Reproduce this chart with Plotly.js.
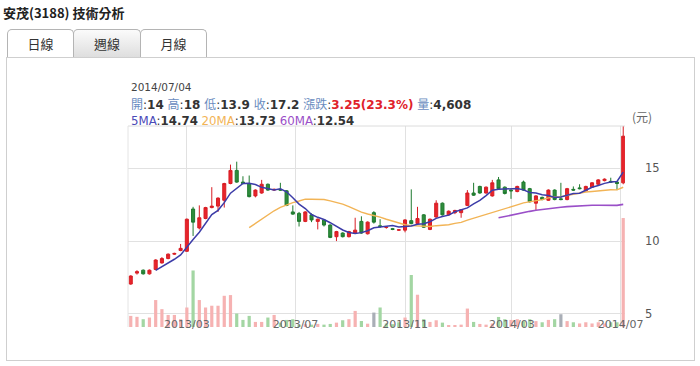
<!DOCTYPE html>
<html>
<head>
<meta charset="utf-8">
<script src="https://cdn.plot.ly/plotly-3.0.1.min.js"></script>
<style>
  html, body { margin:0; padding:0; background:#fff; }
  #wrap { position:relative; width:700px; height:366px; overflow:hidden; font-family:"Noto Sans CJK TC","Noto Sans",sans-serif; }
  #title { position:absolute; left:3px; top:4px; font-size:13px; font-weight:bold; color:#222; line-height:18px; }
  .tab { position:absolute; top:29px; height:28px; border:1px solid #b4b4b4; border-bottom:none; border-radius:5px 5px 0 0; background:#fff; font-size:13px; color:#333; text-align:center; line-height:28px; box-sizing:border-box; }
  #box { position:absolute; left:6px; top:57px; width:689px; height:304px; border:1px solid #cfcfcf; box-sizing:border-box; }
  #chart { position:absolute; left:0; top:0; width:700px; height:366px; }
</style>
</head>
<body>
<div id="wrap">
  <div id="title">安茂(3188) 技術分析</div>
  <div id="box"></div>
  <div class="tab" style="left:7px;width:67px;">日線</div>
  <div class="tab" style="left:73px;width:68px;background:linear-gradient(#fbfbfb,#dedede);">週線</div>
  <div class="tab" style="left:140px;width:67px;">月線</div>
  <div id="chart"></div>
</div>
<script>
const dates = ['2012-12-28','2013-01-04','2013-01-11','2013-01-18','2013-01-25','2013-02-01','2013-02-08','2013-02-15','2013-02-22','2013-03-01',
'2013-03-08','2013-03-15','2013-03-22','2013-03-29','2013-04-05','2013-04-12','2013-04-19','2013-04-26','2013-05-03','2013-05-10',
'2013-05-17','2013-05-24','2013-05-31','2013-06-07','2013-06-14','2013-06-21','2013-06-28','2013-07-05','2013-07-12','2013-07-19',
'2013-07-26','2013-08-02','2013-08-09','2013-08-16','2013-08-23','2013-08-30','2013-09-06','2013-09-13','2013-09-20','2013-09-27',
'2013-10-04','2013-10-11','2013-10-18','2013-10-25','2013-11-01','2013-11-08','2013-11-15','2013-11-22','2013-11-29','2013-12-06',
'2013-12-13','2013-12-20','2013-12-27','2014-01-03','2014-01-10','2014-01-17','2014-01-24','2014-01-31','2014-02-07','2014-02-14',
'2014-02-21','2014-02-28','2014-03-07','2014-03-14','2014-03-21','2014-03-28','2014-04-04','2014-04-11','2014-04-18','2014-04-25',
'2014-05-02','2014-05-09','2014-05-16','2014-05-23','2014-05-30','2014-06-06','2014-06-13','2014-06-20','2014-06-27','2014-07-04'];

const opens = [7.05,7.8,8.0,7.75,8.05,8.5,8.8,9.1,9.35,9.3,
12.2,10.9,11.55,12.3,12.4,12.8,13.95,14.85,14.05,13.95,
13.1,13.3,13.9,13.5,13.55,13.45,12.0,11.9,11.35,11.8,
11.35,11.45,11.1,10.3,10.55,10.3,10.55,11.35,10.5,11.95,
11.05,10.93,10.85,10.75,10.75,11.4,11.2,11.8,10.8,11.65,
12.6,11.8,11.95,11.95,12.45,13.3,13.75,13.3,13.1,14.2,
13.7,13.5,13.4,14.05,13.6,12.6,13.0,12.8,13.5,12.9,
12.85,13.55,13.65,13.45,13.7,13.9,14.15,14.1,14.05,14];
const highs = [7.65,8.0,8.05,8.05,8.75,8.9,9.15,9.2,9.8,11.55,
12.35,12.45,12.35,13.7,13.0,14.0,15.25,15.45,14.45,14.5,
13.55,14.2,13.95,13.6,14.0,13.5,12.45,12.0,12.05,11.9,
11.55,11.5,11.15,10.7,10.6,10.7,11.6,11.7,11.35,12.05,
11.5,11.0,10.9,10.8,11.5,13.55,12.35,11.85,11.55,12.8,
12.65,12.1,12.15,12.2,13.5,14.0,13.8,13.75,14.2,14.4,
13.75,13.55,13.8,14.15,13.65,13.15,13.05,13.55,13.55,14.0,
13.65,13.75,13.9,13.8,14.05,14.25,14.3,14.35,14.1,18];
const lows = [7.0,7.7,7.7,7.7,8.0,8.45,8.75,9.05,9.3,9.25,
10.35,10.8,11.5,12.25,12.0,12.3,13.9,14.0,13.9,13.0,
13.0,13.25,13.45,13.45,13.45,12.4,11.8,11.0,11.3,11.3,
10.8,11.0,10.2,10.0,10.25,10.25,10.5,10.5,10.45,11.2,
10.9,10.85,10.75,10.7,10.6,11.15,11.15,10.9,10.75,11.6,
11.75,11.75,11.85,11.6,12.4,13.1,13.25,13.25,13.05,13.55,
13.2,12.9,13.35,13.45,12.65,12.1,12.8,12.75,12.8,12.8,
12.8,13.45,13.55,13.4,13.65,13.85,14.1,14.0,13.5,13.9];
const closes = [7.6,7.9,7.75,8.0,8.7,8.8,9.1,9.15,9.5,11.5,
11.3,11.6,12.3,12.4,12.95,13.95,14.85,14.05,13.95,13.05,
13.5,13.9,13.5,13.55,13.5,12.45,11.85,11.35,12.0,11.45,
11.5,11.1,10.25,10.65,10.3,10.65,10.75,10.55,11.3,11.3,
11.0,10.95,10.8,10.77,11.45,11.2,11.55,10.95,11.5,12.6,
11.8,12.05,12.1,12.15,13.3,13.15,13.3,13.7,14.0,13.6,
13.27,13.45,13.75,13.5,12.7,13.1,12.85,13.5,12.85,12.85,
13.6,13.5,13.6,13.75,14.0,14.2,14.25,14.05,13.95,17.2];
const volumes = [470,430,330,400,1140,755,510,510,330,825,
2390,1140,825,900,900,1320,1350,570,300,470,
215,215,400,510,185,300,330,100,120,100,
130,100,130,185,285,330,680,255,140,610,
825,150,120,200,400,2200,1365,330,215,285,
185,85,85,100,780,215,130,100,150,425,
330,300,330,250,330,250,200,300,330,540,
250,200,150,200,150,200,150,200,200,4608];

const xTickFormat = '%Y/%m';
const infoDate = '2014/07/04';
const infoOpen = '14', infoHigh = '18', infoLow = '13.9', infoClose = '17.2';
const infoChange = '3.25(23.3%)', infoVolume = '4,608';
const ma5Label = '14.74', ma20Label = '13.73', ma60Label = '12.54';
const unitLabel = '(元)';

function sma(arr, n) {
  return arr.map((v, i) => {
    if (i < n - 1) return null;
    let s = 0;
    for (let k = i - n + 1; k <= i; k++) s += arr[k];
    return s / n;
  });
}
const ma5 = sma(closes, 5), ma20 = sma(closes, 20), ma60 = sma(closes, 60);

const volColors = closes.map((c, i) => {
  const ref = i === 0 ? opens[0] : closes[i - 1];
  if (c > ref) return '#f6b2b2';
  if (c < ref) return '#a3d6a3';
  return '#a9aeb6';
});

const DAY = 86400000;
const traces = [
  { type:'bar', x:dates, y:volumes, yaxis:'y', marker:{color:volColors, line:{width:0}},
    width:dates.map(() => 3.6 * DAY), hoverinfo:'skip' },
  { type:'candlestick', x:dates, open:opens, high:highs, low:lows, close:closes, yaxis:'y2',
    increasing:{line:{color:'#d81e25', width:1}, fillcolor:'#e8242b'},
    decreasing:{line:{color:'#1f7a2f', width:1}, fillcolor:'#2f8c3c'},
    whiskerwidth:0, hoverinfo:'skip' },
  { type:'scatter', mode:'lines', x:dates, y:ma60, yaxis:'y2', line:{color:'#9a4fc8', width:1.6}, hoverinfo:'skip' },
  { type:'scatter', mode:'lines', x:dates, y:ma20, yaxis:'y2', line:{color:'#f2b456', width:1.4}, hoverinfo:'skip' },
  { type:'scatter', mode:'lines', x:dates, y:ma5, yaxis:'y2', line:{color:'#3c3ca8', width:1.5}, hoverinfo:'skip' }
];

const lab = '#6a8cc0';
const fnt = 'DejaVu Sans, Noto Sans CJK TC, sans-serif';
const line2 = `<span style="color:${lab}">開</span>:<b>${infoOpen}</b> <span style="color:${lab}">高</span>:<b>${infoHigh}</b> <span style="color:${lab}">低</span>:<b>${infoLow}</b> <span style="color:${lab}">收</span>:<b>${infoClose}</b> <span style="color:${lab}">漲跌</span>:<b><span style="color:#e0212a">${infoChange}</span></b> <span style="color:${lab}">量</span>:<b>${infoVolume}</b>`;
const line3 = `<span style="color:#4a4ab8">5MA</span>:<b>${ma5Label}</b> <span style="color:#f2b456">20MA</span>:<b>${ma20Label}</b> <span style="color:#9a4fc8">60MA</span>:<b>${ma60Label}</b>`;

const layout = {
  width:700, height:366,
  margin:{l:128, r:75, t:126, b:39, pad:0},
  paper_bgcolor:'rgba(0,0,0,0)', plot_bgcolor:'rgba(0,0,0,0)',
  showlegend:false,
  font:{family:fnt, color:'#333', size:11},
  xaxis:{
    type:'date', range:['2012-12-24 22:00','2014-07-06'],
    tick0:'2013-03-01', dtick:'M4', tickformat:xTickFormat,
    showgrid:true, gridcolor:'#e1e1e1', gridwidth:1, zeroline:false, showline:false,
    ticks:'', tickfont:{family:fnt, size:11, color:'#666'},
    ticklabelstandoff:-11,
    rangeslider:{visible:false}, fixedrange:true
  },
  yaxis:{ range:[0, 8500], visible:false, showgrid:false, zeroline:false, fixedrange:true },
  yaxis2:{
    overlaying:'y', side:'right', range:[4.1, 17.9], tickvals:[5,10,15],
    showgrid:true, gridcolor:'#e1e1e1', gridwidth:1, zeroline:false, showline:false,
    ticks:'', tickfont:{family:fnt, size:11.5, color:'#555'}, ticklabelstandoff:19, fixedrange:true
  },
  shapes:[
    {type:'line', xref:'paper', yref:'paper', x0:0, x1:1, y0:1, y1:1, line:{color:'#dcdcdc', width:1}},
    {type:'line', xref:'paper', yref:'paper', x0:0, x1:0, y0:0, y1:1, line:{color:'#e4e4e4', width:1}}
  ],
  annotations:[
    {xref:'paper', yref:'paper', x:0.002, y:1.194, xanchor:'left', yanchor:'middle', showarrow:false,
     text:infoDate, font:{family:fnt, size:10.5, color:'#444'}},
    {xref:'paper', yref:'paper', x:0.002, y:1.109, xanchor:'left', yanchor:'middle', showarrow:false,
     text:line2, font:{family:fnt, size:12, color:'#333'}},
    {xref:'paper', yref:'paper', x:0.002, y:1.027, xanchor:'left', yanchor:'middle', showarrow:false,
     text:line3, font:{family:fnt, size:11.8, color:'#333'}},
    {xref:'paper', yref:'paper', x:1.035, y:1.045, xanchor:'center', yanchor:'middle', showarrow:false,
     text:unitLabel, font:{family:'Noto Sans CJK TC, sans-serif', size:12, color:'#666'}}
  ]
};

Plotly.newPlot('chart', traces, layout, {displayModeBar:false, staticPlot:true});
</script>
</body>
</html>
